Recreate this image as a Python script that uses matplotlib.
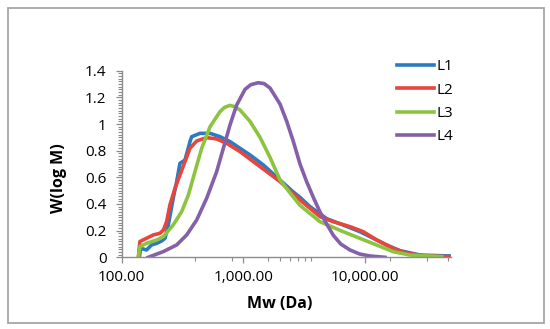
import matplotlib
matplotlib.use("Agg")
import matplotlib.pyplot as plt
from matplotlib.ticker import FixedLocator, FixedFormatter, MultipleLocator, NullFormatter
from matplotlib.patches import Rectangle

# --- data (Mw in Da, W(log M)) ---
l1_mw = [139.5, 143, 160, 176, 194, 213, 227, 241.5, 265, 283, 301, 331, 364, 376,
         440, 532, 642, 776, 938, 1133, 1457, 1999, 2570, 2918, 3526, 4836, 6622,
         9082, 10970, 15050, 19360, 28250, 49850]
l1_w = [0, 0.068, 0.055, 0.093, 0.105, 0.123, 0.143, 0.243, 0.443, 0.568, 0.705,
        0.73, 0.868, 0.905, 0.93, 0.93, 0.905, 0.868, 0.818, 0.768, 0.693, 0.58,
        0.49, 0.45, 0.38, 0.29, 0.242, 0.192, 0.155, 0.092, 0.05, 0.017, 0.01]

l2_mw = [137, 141, 160, 182, 206, 220, 234, 249, 274, 301, 331, 364, 413, 499, 603,
         729, 938, 1206, 1554, 1999, 2918, 4260, 5480, 7515, 9665, 12460, 17050,
         21970, 32080, 49850]
l2_w = [0, 0.118, 0.143, 0.168, 0.18, 0.205, 0.268, 0.393, 0.518, 0.618, 0.718,
        0.818, 0.873, 0.898, 0.888, 0.855, 0.793, 0.718, 0.643, 0.568, 0.43, 0.305,
        0.267, 0.23, 0.192, 0.13, 0.067, 0.03, 0.01, 0.005]

l3_mw = [137, 141, 160, 194, 220, 265, 311, 353, 400, 454, 532, 642, 700, 776, 850,
         938, 1133, 1369, 1654, 1999, 2480, 2918, 4260, 6622, 9082, 12460, 17050,
         23380, 42600]
l3_w = [0, 0.08, 0.105, 0.13, 0.155, 0.243, 0.343, 0.468, 0.643, 0.818, 0.98,
        1.093, 1.125, 1.14, 1.13, 1.105, 1.02, 0.90, 0.75, 0.58, 0.47, 0.39, 0.267,
        0.192, 0.142, 0.092, 0.042, 0.017, 0.005]

l4_mw = [165, 220, 283, 342, 413, 499, 603, 684, 776, 881, 1031, 1150, 1326, 1480,
         1654, 1999, 2269, 2570, 2918, 3300, 3753, 4260, 4836, 5480, 6300, 7515,
         9000, 10970, 14570]
l4_w = [0, 0.043, 0.093, 0.168, 0.28, 0.443, 0.643, 0.818, 0.993, 1.143, 1.26,
        1.295, 1.31, 1.303, 1.27, 1.15, 1.02, 0.87, 0.70, 0.57, 0.45, 0.34, 0.25,
        0.165, 0.10, 0.055, 0.025, 0.01, 0]

series = [("L1", l1_mw, l1_w, "#2A7BC1"),
          ("L2", l2_mw, l2_w, "#E8453C"),
          ("L3", l3_mw, l3_w, "#8DC43F"),
          ("L4", l4_mw, l4_w, "#8560A8")]

x_ticks = [100, 1000, 10000]
x_tick_labels = ["100.00", "1,000.00", "10,000.00"]
x_minor = [400, 800, 1600, 2000, 2400, 2800, 3200, 3600, 16000, 32000, 48000]
y_ticks = [0, 0.2, 0.4, 0.6, 0.8, 1, 1.2, 1.4]
y_tick_labels = ["0", "0.2", "0.4", "0.6", "0.8", "1", "1.2", "1.4"]

plt.rcParams['font.family'] = ['Open Sans', 'DejaVu Sans']
axis_grey = "#8C8C8C"

fig = plt.figure(figsize=(5.5, 3.29), dpi=100)
ax = fig.add_axes([0.2213, 0.2179, 0.5987, 0.5672])

for name, mw, w, col in series:
    ax.plot(mw, w, color=col, lw=2.6, label=name, solid_joinstyle="round")

ax.set_xscale("log")
ax.set_xlim(100, 50800)
ax.set_ylim(0, 1.4)

ax.xaxis.set_major_locator(FixedLocator(x_ticks))
ax.xaxis.set_major_formatter(FixedFormatter(x_tick_labels))
ax.xaxis.set_minor_locator(FixedLocator(x_minor))
ax.xaxis.set_minor_formatter(NullFormatter())
ax.yaxis.set_major_locator(FixedLocator(y_ticks))
ax.yaxis.set_major_formatter(FixedFormatter(y_tick_labels))
ax.yaxis.set_minor_locator(MultipleLocator(0.02))

for s in ["top", "right"]:
    ax.spines[s].set_visible(False)
for s in ["left", "bottom"]:
    ax.spines[s].set_color(axis_grey)
    ax.spines[s].set_linewidth(1.0)

ax.tick_params(which="major", direction="out", length=4, width=0.9, color=axis_grey,
               labelsize=11, labelcolor="black")
ax.tick_params(which="minor", direction="out", length=3, width=0.8, color=axis_grey)
ax.tick_params(axis="x", which="major", pad=5)
ax.tick_params(axis="y", which="major", pad=7)

ax.set_xlabel("Mw (Da)", fontsize=11.5, fontweight="bold")
ax.xaxis.set_label_coords(0.481, -0.205)
ax.set_ylabel("W(log M)", fontsize=11.5, fontweight="bold")
ax.yaxis.set_label_coords(-0.166, 0.425)

leg = ax.legend(loc="upper left", bbox_to_anchor=(0.818, 1.094), frameon=False,
                fontsize=11, handlelength=2.4, handletextpad=0.2, labelspacing=0.55,
                borderaxespad=0)

fig.patches.append(Rectangle((7.5 / 550, 1 - 322.5 / 329), 536 / 550, 315 / 329,
                             transform=fig.transFigure, fill=False,
                             edgecolor="#A6A6A6", linewidth=1.3))

fig.savefig("out.png", dpi=100)
